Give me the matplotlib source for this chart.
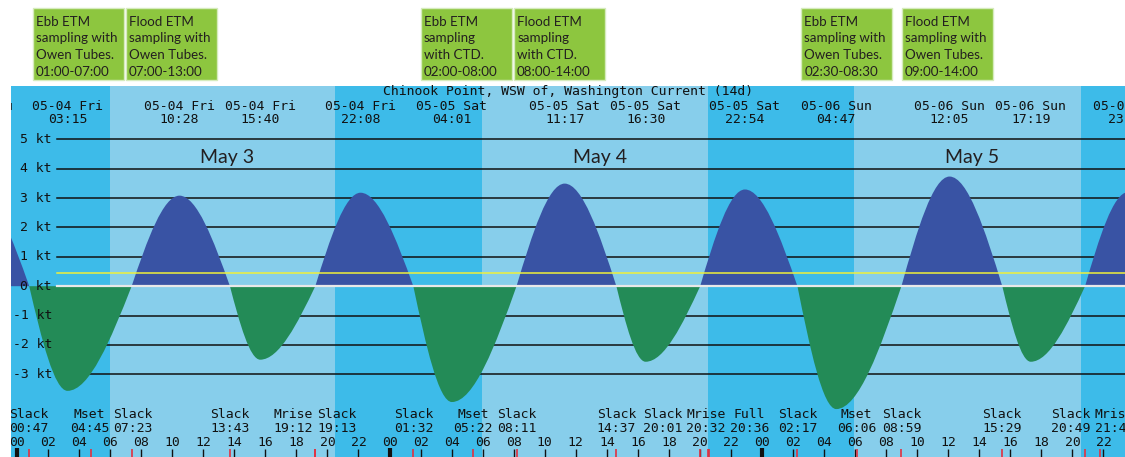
import numpy as np
import pandas as pd
import matplotlib
matplotlib.use("Agg")
import matplotlib.pyplot as plt
import matplotlib.transforms as mtransforms
from matplotlib.path import Path
from matplotlib.patches import PathPatch, Rectangle

start = pd.Timestamp("2012-05-04 00:00")

# maximum currents (+ flood, - ebb), knots
max_times = ["2012-05-03 21:26", "2012-05-04 03:15", "2012-05-04 10:28", "2012-05-04 15:40",
             "2012-05-04 22:08", "2012-05-05 04:01", "2012-05-05 11:17", "2012-05-05 16:30",
             "2012-05-05 22:54", "2012-05-06 04:47", "2012-05-06 12:05", "2012-05-06 17:19",
             "2012-05-06 23:35"]
max_speeds = [3.2, -3.56, 3.08, -2.5, 3.18, -3.94, 3.49, -2.57, 3.29, -4.18, 3.73, -2.57, 3.2]

slack_times = ["2012-05-03 18:24", "2012-05-04 00:47", "2012-05-04 07:23", "2012-05-04 13:43",
               "2012-05-04 19:13", "2012-05-05 01:32", "2012-05-05 08:11", "2012-05-05 14:37",
               "2012-05-05 20:01", "2012-05-06 02:17", "2012-05-06 08:59", "2012-05-06 15:29",
               "2012-05-06 20:49", "2012-05-07 02:40"]

moon_names = ["Mset", "Mrise", "Mset", "Mrise", "Full", "Mset", "Mrise"]
moon_times = ["2012-05-04 04:45", "2012-05-04 19:12", "2012-05-05 05:22", "2012-05-05 20:32",
              "2012-05-05 20:36", "2012-05-06 06:06", "2012-05-06 21:47"]

sunrise = ["2012-05-04 05:59", "2012-05-05 05:57", "2012-05-06 05:55"]
sunset = ["2012-05-04 20:29", "2012-05-05 20:31", "2012-05-06 20:33"]
day_names = ["May 3", "May 4", "May 5"]

kt_levels = [5, 4, 3, 2, 1, 0, -1, -2, -3]
threshold = 0.44

sampling = [("2012-05-04 01:00", "Ebb ETM\nsampling with\nOwen Tubes.\n01:00-07:00"),
            ("2012-05-04 07:00", "Flood ETM\nsampling with\nOwen Tubes.\n07:00-13:00"),
            ("2012-05-05 02:00", "Ebb ETM\nsampling\nwith CTD.\n02:00-08:00"),
            ("2012-05-05 08:00", "Flood ETM\nsampling\nwith CTD.\n08:00-14:00"),
            ("2012-05-06 02:30", "Ebb ETM\nsampling with\nOwen Tubes.\n02:30-08:30"),
            ("2012-05-06 09:00", "Flood ETM\nsampling with\nOwen Tubes.\n09:00-14:00")]


def hours(ts):
    return ((pd.to_datetime(ts) - start) / pd.Timedelta(hours=1)).to_numpy(dtype=float)


def spread(centers, widths, gap):
    # push overlapping labels apart, xtide style
    c = np.array(centers, dtype=float)
    for _ in range(300):
        moved = False
        for i in range(len(c) - 1):
            ov = (c[i] + widths[i] / 2 + gap) - (c[i + 1] - widths[i + 1] / 2)
            if ov > 1e-6:
                c[i] -= ov / 2
                c[i + 1] += ov / 2
                moved = True
        if not moved:
            break
    return c


W, H = 1125, 457
PX_PER_H = 15.52
MONO = "DejaVu Sans Mono"
FS = 9.45
CHAR_H = 7.9 / PX_PER_H

fig = plt.figure(figsize=(W / 100, H / 100), dpi=100)
ax = fig.add_axes([11 / W, 0, 1114 / W, 371 / H])
ax.set_xlim(-0.39, 71.39)
ax.set_ylim(-5.81, 6.81)
ax.set_facecolor("#3dbbe9")
ax.set_xticks([])
ax.set_yticks([])
for s in ax.spines.values():
    s.set_visible(False)

def ay(px):
    return (H - px) / 371

xt = ax.get_xaxis_transform()
yt = ax.get_yaxis_transform()

# daylight
for r, s in zip(hours(sunrise), hours(sunset)):
    ax.axvspan(r, s, color="#87ceeb", lw=0, zorder=0)
for r, s, name in zip(hours(sunrise), hours(sunset), day_names):
    ax.text((r + s) / 2 + 0.3, ay(158), name, transform=xt, ha="center", va="center",
            fontsize=14, family="Lato", color="#231f20", zorder=6)

# knot grid
for k in kt_levels:
    if k != 0:
        ax.axhline(k, xmin=0.0413, xmax=1, color="#111111", lw=1.1, zorder=1)
    ax.text(0.0368, k, f"{k} kt", transform=yt, ha="right", va="center",
            family=MONO, fontsize=FS, color="#111111", zorder=7)

# current lobes: quarter-sine bezier from slack to max and back
mt = hours(max_times)
st = hours(slack_times)
for i, (tm, v) in enumerate(zip(mt, max_speeds)):
    t0, t1 = st[i], st[i + 1]
    a, b = tm - t0, t1 - tm
    verts = [(t0, 0), (t0 + 0.3255 * a, 0.5112 * v), (t0 + 0.657 * a, v), (tm, v),
             (tm + 0.343 * b, v), (tm + 0.6745 * b, 0.5112 * v), (t1, 0), (t0, 0)]
    codes = [Path.MOVETO] + [Path.CURVE4] * 6 + [Path.CLOSEPOLY]
    col = "#3953a4" if v > 0 else "#238b57"
    ax.add_patch(PathPatch(Path(verts, codes), facecolor=col, edgecolor="none", zorder=3))

ax.axhline(0, xmin=0.0413, xmax=1, color="#e8e8e8", lw=1.6, zorder=4)
ax.axhline(threshold, xmin=0.0413, xmax=1, color="#f0f03a", lw=1.1, zorder=4)

# title
ax.text(0.5, ay(92), "Chinook Point, WSW of, Washington Current (14d)", transform=ax.transAxes,
        ha="center", va="center", family=MONO, fontsize=FS, color="#111111", zorder=7)

# max current labels along the top
mx = pd.to_datetime(max_times)
top1 = [t.strftime("%m-%d %a") for t in mx]
top2 = [t.strftime("%H:%M") for t in mx]
wid = [max(len(a), len(b)) * CHAR_H for a, b in zip(top1, top2)]
cx = spread(mt, wid, 0.5 * CHAR_H)
for x, a, b in zip(cx, top1, top2):
    ax.text(x, ay(107), a, transform=xt, ha="center", va="center", family=MONO,
            fontsize=FS, color="#111111", clip_on=True, zorder=7)
    ax.text(x, ay(119.5), b, transform=xt, ha="center", va="center", family=MONO,
            fontsize=FS, color="#111111", clip_on=True, zorder=7)

# slack and moon events along the bottom
ev_t = np.concatenate([st, hours(moon_times)])
ev_name = ["Slack"] * len(st) + moon_names
ev_clock = [t.strftime("%H:%M") for t in pd.to_datetime(slack_times + moon_times)]
order = np.argsort(ev_t, kind="stable")
ev_t = ev_t[order]
ev_name = [ev_name[i] for i in order]
ev_clock = [ev_clock[i] for i in order]
wid = [max(len(a), len(b)) * CHAR_H for a, b in zip(ev_name, ev_clock)]
cx = spread(ev_t, wid, 0.5 * CHAR_H)
for x, a, b in zip(cx, ev_name, ev_clock):
    ax.text(x, ay(414), a, transform=xt, ha="center", va="center", family=MONO,
            fontsize=FS, color="#111111", clip_on=True, zorder=7)
    ax.text(x, ay(428), b, transform=xt, ha="center", va="center", family=MONO,
            fontsize=FS, color="#111111", clip_on=True, zorder=7)

# hour scale
hrs = np.arange(0, 72, 2)
for h in hrs:
    ax.text(h, ay(442), f"{h % 24:02d}", transform=xt, ha="center", va="center", family=MONO,
            fontsize=FS, color="#111111", clip_on=True, zorder=7)
ax.vlines(hrs, 0, ay(449), transform=xt, color="#111111", lw=1, zorder=7)
ax.vlines(hrs[hrs % 24 == 0], 0, ay(448), transform=xt, color="#111111", lw=3, zorder=7)
ax.vlines(ev_t, 0, ay(449), transform=xt, color="#e23040", lw=1.2, zorder=8)

# sampling windows above the chart
bt = mtransforms.blended_transform_factory(ax.transData, fig.transFigure)
for when, label in sampling:
    t0 = hours([when])[0]
    fig.add_artist(Rectangle((t0, 1 - 80 / H), 5.9, 72 / H, transform=bt,
                             facecolor="#8dc63f", edgecolor="#d6ebbd", lw=1))
    for j, line in enumerate(label.split("\n")):
        fig.text(t0 + 0.22, 1 - (21.7 + 16.7 * j) / H, line, transform=bt, ha="left",
                 va="center", family="Lato", fontsize=9.6, color="#231f20")

fig.savefig("out.png", dpi=100)
